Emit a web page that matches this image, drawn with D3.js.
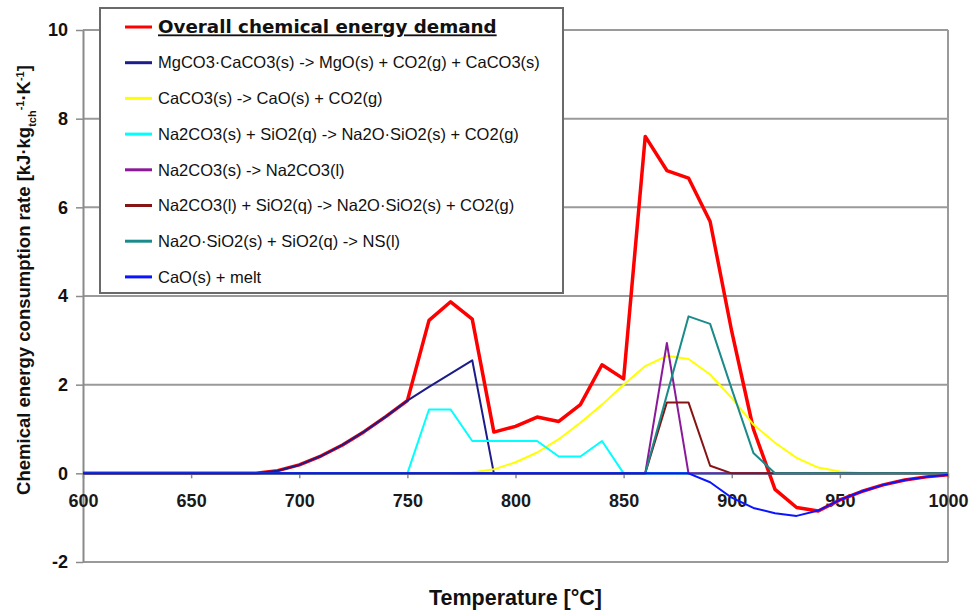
<!DOCTYPE html>
<html>
<head>
<meta charset="utf-8">
<script src="https://cdn.jsdelivr.net/npm/d3@7"></script>
<style>
  body { margin: 0; background: #fff; }
  svg { font-family: "Liberation Sans", Arial, sans-serif; }
</style>
</head>
<body>
<svg id="chart" width="971" height="613"></svg>
<script>
const temps = [600, 610, 620, 630, 640, 650, 660, 670, 680, 690, 700, 710, 720, 730, 740, 750, 760, 770, 780, 790,
  800, 810, 820, 830, 840, 850, 860, 870, 880, 890, 900, 910, 920, 930, 940, 950, 960, 970, 980, 990, 1000];

const overall = [0, 0, 0, 0, 0, 0, 0, 0, 0, 0.06, 0.19, 0.39, 0.64, 0.94, 1.28, 1.64, 3.45, 3.87, 3.48, 0.93,
  1.06, 1.27, 1.17, 1.55, 2.45, 2.13, 7.6, 6.83, 6.66, 5.68, 3.2, 1.0, -0.36, -0.77, -0.85, -0.6, -0.41, -0.26, -0.15, -0.08, -0.03];
const dolomite = [0, 0, 0, 0, 0, 0, 0, 0, 0, 0.06, 0.19, 0.39, 0.64, 0.94, 1.28, 1.64, 1.95, 2.25, 2.55, 0,
  0, 0, 0, 0, 0, 0, 0, 0, 0, 0, 0, 0, 0, 0, 0, 0, 0, 0, 0, 0, 0];
const calcite = [0, 0, 0, 0, 0, 0, 0, 0, 0, 0, 0, 0, 0, 0, 0, 0, 0, 0, 0.02, 0.09,
  0.25, 0.47, 0.77, 1.14, 1.55, 2.0, 2.42, 2.65, 2.58, 2.23, 1.7, 1.1, 0.69, 0.35, 0.13, 0.04, 0.01, 0, 0, 0, 0];
const sodaSilica = [0, 0, 0, 0, 0, 0, 0, 0, 0, 0, 0, 0, 0, 0, 0, 0, 1.44, 1.44, 0.73, 0.73,
  0.73, 0.73, 0.38, 0.38, 0.73, 0, 0, 0, 0, 0, 0, 0, 0, 0, 0, 0, 0, 0, 0, 0, 0];
const sodaMelt = [0, 0, 0, 0, 0, 0, 0, 0, 0, 0, 0, 0, 0, 0, 0, 0, 0, 0, 0, 0,
  0, 0, 0, 0, 0, 0, 0, 2.94, 0, 0, 0, 0, 0, 0, 0, 0, 0, 0, 0, 0, 0];
const liquidSoda = [0, 0, 0, 0, 0, 0, 0, 0, 0, 0, 0, 0, 0, 0, 0, 0, 0, 0, 0, 0,
  0, 0, 0, 0, 0, 0, 0, 1.6, 1.6, 0.17, 0, 0, 0, 0, 0, 0, 0, 0, 0, 0, 0];
const silicateMelt = [0, 0, 0, 0, 0, 0, 0, 0, 0, 0, 0, 0, 0, 0, 0, 0, 0, 0, 0, 0,
  0, 0, 0, 0, 0, 0, 0, 1.77, 3.54, 3.37, 1.9, 0.46, 0, 0, 0, 0, 0, 0, 0, 0, 0];
const limeMelt = [0, 0, 0, 0, 0, 0, 0, 0, 0, 0, 0, 0, 0, 0, 0, 0, 0, 0, 0, 0,
  0, 0, 0, 0, 0, 0, 0, 0, 0, -0.2, -0.55, -0.78, -0.9, -0.96, -0.84, -0.6, -0.41, -0.26, -0.15, -0.08, -0.03];

const xTicks = [600, 650, 700, 750, 800, 850, 900, 950, 1000];
const yTicks = [-2, 0, 2, 4, 6, 8, 10];

const series = [
  { name: "Overall chemical energy demand", values: overall, color: "#ff0000", width: 3.5, title: true },
  { name: "MgCO3·CaCO3(s) -> MgO(s) + CO2(g) + CaCO3(s)", values: dolomite, color: "#1c1c8a", width: 2 },
  { name: "CaCO3(s) -> CaO(s) + CO2(g)", values: calcite, color: "#ffff00", width: 2 },
  { name: "Na2CO3(s) + SiO2(q) -> Na2O·SiO2(s) + CO2(g)", values: sodaSilica, color: "#00ffff", width: 2 },
  { name: "Na2CO3(s) -> Na2CO3(l)", values: sodaMelt, color: "#8b1a9a", width: 2 },
  { name: "Na2CO3(l) + SiO2(q) -> Na2O·SiO2(s) + CO2(g)", values: liquidSoda, color: "#861414", width: 2 },
  { name: "Na2O·SiO2(s) + SiO2(q) -> NS(l)", values: silicateMelt, color: "#1a8a8a", width: 2 },
  { name: "CaO(s) + melt", values: limeMelt, color: "#0a14ff", width: 2 }
];

const svg = d3.select("#chart");
const margin = { top: 30, right: 23, bottom: 51, left: 83 };
const width = +svg.attr("width");
const height = +svg.attr("height");

const x = d3.scaleLinear().domain([600, 1000]).range([margin.left, width - margin.right]);
const y = d3.scaleLinear().domain([-2, 10]).range([height - margin.bottom, margin.top]);

// gridlines and frame
svg.append("g")
  .selectAll("line")
  .data(yTicks.filter(d => d !== 0))
  .join("line")
  .attr("x1", x(600)).attr("x2", x(1000))
  .attr("y1", d => y(d)).attr("y2", d => y(d))
  .attr("stroke", "#9a9a9a")
  .attr("stroke-width", 2);

svg.append("line")
  .attr("x1", x(1000)).attr("x2", x(1000))
  .attr("y1", y(10)).attr("y2", y(-2))
  .attr("stroke", "#9a9a9a")
  .attr("stroke-width", 2);

// y axis
const yAxis = svg.append("g")
  .attr("transform", `translate(${margin.left},0)`)
  .call(d3.axisLeft(y).tickValues(yTicks).tickFormat(d => String(d)).tickSize(7).tickPadding(8).tickSizeOuter(0));
yAxis.select(".domain").attr("stroke", "#8a8a8a").attr("stroke-width", 2);
yAxis.selectAll(".tick line").attr("stroke", "#8a8a8a").attr("stroke-width", 1.5);
yAxis.selectAll("text").attr("font-size", 18).attr("font-weight", "bold").attr("fill", "#111");

// x axis at zero
const xAxis = svg.append("g")
  .attr("transform", `translate(0,${y(0)})`)
  .call(d3.axisBottom(x).tickValues(xTicks).tickFormat(d => String(d)).tickSize(5).tickPadding(16).tickSizeOuter(0));
xAxis.select(".domain").attr("stroke", "#8a8a8a").attr("stroke-width", 2);
xAxis.selectAll(".tick line").attr("stroke", "#8a8a8a").attr("stroke-width", 1.5);
xAxis.selectAll("text").attr("font-size", 18).attr("font-weight", "bold").attr("fill", "#1a1a1a");

// series lines
const line = d3.line()
  .x((d, i) => x(temps[i]))
  .y(d => y(d));

svg.append("g")
  .selectAll("path")
  .data(series)
  .join("path")
  .attr("d", d => line(d.values))
  .attr("fill", "none")
  .attr("stroke", d => d.color)
  .attr("stroke-width", d => d.width)
  .attr("stroke-linejoin", "round");

// axis titles
svg.append("text")
  .attr("x", (x(600) + x(1000)) / 2)
  .attr("y", 605)
  .attr("text-anchor", "middle")
  .attr("font-size", 21.5)
  .attr("font-weight", "bold")
  .attr("fill", "#111")
  .text("Temperature [°C]");

const yTitle = svg.append("text")
  .attr("transform", "translate(30,280) rotate(-90)")
  .attr("text-anchor", "middle")
  .attr("font-size", 18.5)
  .attr("font-weight", "bold")
  .attr("fill", "#111");
yTitle.append("tspan").text("Chemical energy consumption rate [kJ·kg");
yTitle.append("tspan").attr("font-size", 11).attr("baseline-shift", "sub").text("tch");
yTitle.append("tspan").attr("font-size", 11).attr("baseline-shift", "super").text("-1");
yTitle.append("tspan").text("·K");
yTitle.append("tspan").attr("font-size", 11).attr("baseline-shift", "super").text("-1");
yTitle.append("tspan").text("]");

// legend
const legend = svg.append("g");
legend.append("rect")
  .attr("x", 100).attr("y", 8)
  .attr("width", 463).attr("height", 285)
  .attr("fill", "#fff")
  .attr("stroke", "#6a6a6a")
  .attr("stroke-width", 2);

const rowStep = 35.7;
const items = legend.selectAll("g.item")
  .data(series)
  .join("g")
  .attr("class", "item")
  .attr("transform", (d, i) => `translate(0,${27 + i * rowStep})`);

items.append("line")
  .attr("x1", 125).attr("x2", 152)
  .attr("y1", 0).attr("y2", 0)
  .attr("stroke", d => d.color)
  .attr("stroke-width", 3);

items.append("text")
  .attr("x", 158)
  .attr("dy", "0.35em")
  .attr("font-family", d => d.title ? "'DejaVu Sans', sans-serif" : null)
  .attr("font-size", d => d.title ? 18.3 : 16.5)
  .attr("font-weight", d => d.title ? "bold" : "normal")
  .attr("text-decoration", d => d.title ? "underline" : null)
  .attr("fill", "#111")
  .text(d => d.name);
</script>
</body>
</html>
